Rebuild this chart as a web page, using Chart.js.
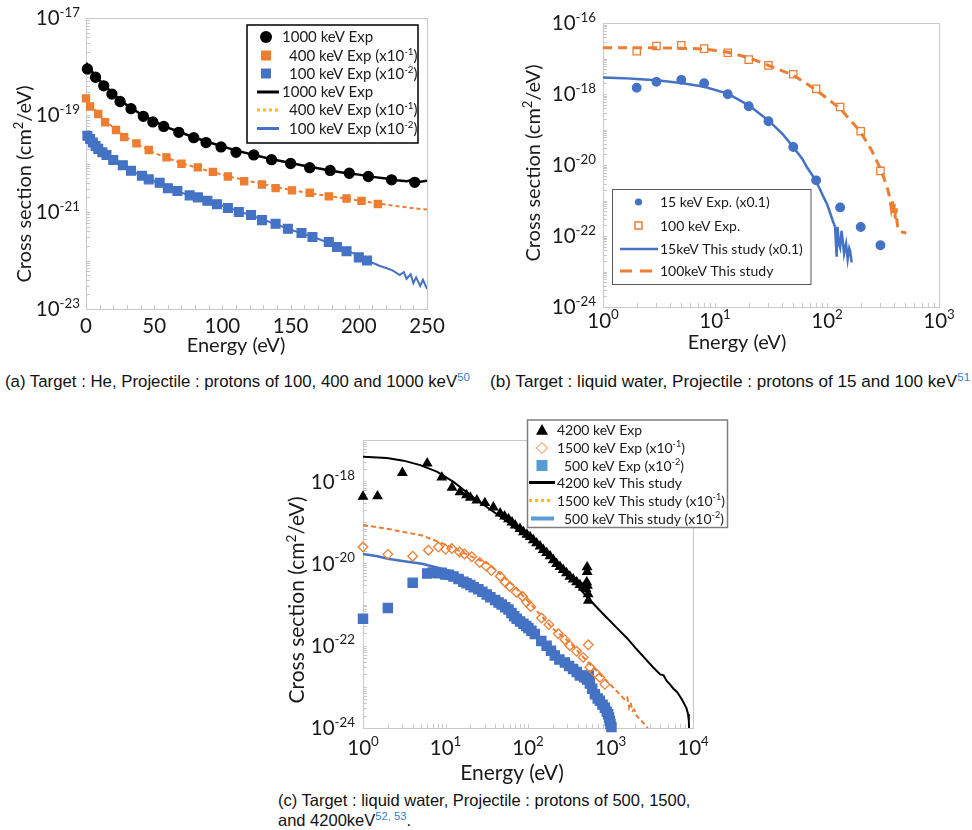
<!DOCTYPE html>
<html>
<head>
<meta charset="utf-8">
<script src="https://cdn.jsdelivr.net/npm/chart.js@4.4.1/dist/chart.umd.min.js"></script>
<style>
  body { margin: 0; background: #fff; width: 972px; height: 830px; position: relative; overflow: hidden; }
  canvas { position: absolute; }
  .cap { position: absolute; font-family: "Liberation Sans", Arial, sans-serif; color: #111; white-space: nowrap; }
  .cap sup { color: #2f80d0; font-size: 68%; vertical-align: 0.55em; line-height: 0; }
</style>
</head>
<body>
<canvas id="chartA" width="480" height="360" style="left:0;top:0"></canvas>
<canvas id="chartB" width="482" height="360" style="left:490px;top:0"></canvas>
<canvas id="chartC" width="460" height="390" style="left:270px;top:400px"></canvas>
<div class="cap" style="left:5px;top:372px;font-size:16.8px">(a) Target : He, Projectile : protons of 100, 400 and 1000 keV<sup>50</sup></div>
<div class="cap" style="left:490px;top:372px;font-size:17.1px">(b) Target : liquid water, Projectile : protons of 15 and 100 keV<sup>51</sup></div>
<div class="cap" style="left:278px;top:790px;font-size:16.5px;line-height:20px">(c) Target : liquid water, Projectile : protons of 500, 1500,<br>and 4200keV<sup>52, 53</sup>.</div>
<script>
// ---- (a) He target, energies in eV, cross sections in cm2/eV
const a1000ExpE = [1, 7, 13, 19, 25, 33, 42, 49, 57, 68, 79, 88, 99, 110, 123, 136, 150, 164, 179, 193, 207, 224, 241];
const a1000ExpY = [8.9e-19, 6.0e-19, 4.0e-19, 2.7e-19, 1.9e-19, 1.35e-19, 9.4e-20, 7.2e-20, 5.8e-20, 4.4e-20, 3.4e-20, 2.7e-20, 2.2e-20, 1.7e-20, 1.5e-20, 1.2e-20, 1.0e-20, 8.2e-21, 7.2e-21, 6.3e-21, 5.4e-21, 4.6e-21, 4.1e-21];
const a400ExpE = [0, 3, 9, 14, 22, 28, 37, 46, 59, 70, 82, 93, 104, 116, 129, 139, 151, 164, 178, 191, 202, 214];
const a400ExpY = [2.2e-19, 1.5e-19, 1.05e-19, 7.1e-20, 4.9e-20, 3.5e-20, 2.6e-20, 1.9e-20, 1.34e-20, 9.9e-21, 8.3e-21, 6.7e-21, 5.4e-21, 4.3e-21, 3.7e-21, 3.1e-21, 2.8e-21, 2.5e-21, 2.1e-21, 1.9e-21, 1.7e-21, 1.46e-21];
const a100ExpE = [1, 3, 5, 7, 9, 12, 15, 20, 27, 33, 41, 46, 54, 60, 67, 76, 82, 89, 96, 104, 112, 121, 129, 139, 148, 158, 166, 178, 184, 191, 200, 206];
const a100ExpY = [3.75e-20, 3.2e-20, 2.7e-20, 2.3e-20, 2.0e-20, 1.7e-20, 1.5e-20, 1.18e-20, 9.2e-21, 7.1e-21, 5.6e-21, 4.7e-21, 4.0e-21, 3.1e-21, 2.7e-21, 2.2e-21, 2.0e-21, 1.7e-21, 1.44e-21, 1.21e-21, 1.0e-21, 8.7e-22, 6.8e-22, 5.7e-22, 4.5e-22, 3.7e-22, 3.05e-22, 2.4e-22, 1.9e-22, 1.55e-22, 1.16e-22, 1.0e-22];
const a1000ThE = [0, 3, 6, 10, 15, 20, 25, 30, 40, 50, 60, 70, 80, 90, 100, 110, 120, 130, 140, 150, 160, 170, 180, 190, 200, 210, 220, 228, 235, 240, 245, 250];
const a1000ThY = [1.2e-18, 8.8e-19, 7.0e-19, 5.2e-19, 3.7e-19, 2.75e-19, 2.0e-19, 1.6e-19, 1.05e-19, 7.4e-20, 5.5e-20, 4.3e-20, 3.4e-20, 2.75e-20, 2.25e-20, 1.85e-20, 1.58e-20, 1.35e-20, 1.17e-20, 1.02e-20, 9.0e-21, 8.0e-21, 7.1e-21, 6.4e-21, 5.9e-21, 5.3e-21, 4.9e-21, 4.5e-21, 4.3e-21, 4.6e-21, 4.2e-21, 4.4e-21];
const a400ThE = [0, 5, 10, 20, 30, 40, 50, 60, 70, 80, 90, 100, 110, 120, 130, 140, 150, 160, 170, 180, 190, 200, 210, 220, 230, 240, 250];
const a400ThY = [2.2e-19, 1.45e-19, 1.0e-19, 5.5e-20, 3.4e-20, 2.3e-20, 1.65e-20, 1.28e-20, 1.02e-20, 8.4e-21, 7.0e-21, 5.9e-21, 5.0e-21, 4.3e-21, 3.75e-21, 3.25e-21, 2.85e-21, 2.55e-21, 2.3e-21, 2.1e-21, 1.9e-21, 1.72e-21, 1.56e-21, 1.42e-21, 1.3e-21, 1.2e-21, 1.12e-21];
const a100ThE = [0, 5, 10, 20, 30, 40, 50, 60, 70, 80, 90, 100, 110, 120, 130, 140, 150, 160, 170, 180, 190, 200, 205, 210, 215, 220, 225, 230, 233, 235, 238, 240, 242, 245, 247, 250];
const a100ThY = [4.2e-20, 2.7e-20, 1.95e-20, 1.2e-20, 7.9e-21, 5.7e-21, 4.3e-21, 3.2e-21, 2.5e-21, 2.05e-21, 1.65e-21, 1.35e-21, 1.08e-21, 8.7e-22, 6.9e-22, 5.5e-22, 4.3e-22, 3.5e-22, 2.8e-22, 2.2e-22, 1.7e-22, 1.25e-22, 1.05e-22, 9.0e-23, 7.8e-23, 7.0e-23, 6.2e-23, 5.0e-23, 5.8e-23, 4.2e-23, 5.2e-23, 3.4e-23, 4.5e-23, 3.0e-23, 4.0e-23, 2.6e-23];

// ---- (b) liquid water, 15 and 100 keV
const b15ExpE = [2, 3, 5, 8, 13, 20, 30, 50, 80, 131, 200, 300];
const b15ExpY = [1.5e-18, 2.2e-18, 2.5e-18, 2.0e-18, 9.8e-19, 4.5e-19, 1.7e-19, 3.2e-20, 3.7e-21, 6.4e-22, 1.8e-22, 5.5e-23];
const b100ExpE = [2, 3, 5, 8, 13, 20, 30, 50, 80, 131, 200, 300];
const b100ExpY = [1.6e-17, 2.25e-17, 2.35e-17, 1.9e-17, 1.45e-17, 9.3e-18, 6.4e-18, 3.6e-18, 1.4e-18, 4.3e-19, 8.9e-20, 6.8e-21];
const b15ThE = [1, 1.5, 2, 3, 5, 8, 13, 20, 30, 40, 50, 60, 66, 73, 80, 87, 93, 100, 107, 113, 118, 122, 124, 128, 131, 135, 140, 142, 148, 153, 158, 161, 166];
const b15ThY = [2.9e-18, 2.8e-18, 2.65e-18, 2.45e-18, 2.05e-18, 1.6e-18, 1.03e-18, 4.8e-19, 1.8e-19, 7.5e-20, 3.2e-20, 1.5e-20, 8.8e-21, 5.5e-21, 3.4e-21, 2.0e-21, 1.26e-21, 8e-22, 4.3e-22, 2.6e-22, 1.8e-22, 2.6e-23, 1.8e-22, 6e-23, 4.7e-23, 1.4e-22, 5e-23, 3.2e-23, 6e-23, 2.2e-23, 4.5e-23, 3.8e-23, 1.8e-23];
const b100ThE = [1, 1.5, 2, 3, 5, 8, 13, 20, 30, 50, 80, 131, 200, 250, 300, 330, 350, 365, 375, 385, 392, 400, 408, 415, 422, 430, 440, 470, 510];
const b100ThY = [2.0e-17, 2.0e-17, 2.0e-17, 2.0e-17, 1.95e-17, 1.85e-17, 1.5e-17, 1.05e-17, 6.4e-18, 3.4e-18, 1.3e-18, 3.9e-19, 8.5e-20, 2.6e-20, 7.9e-21, 3.5e-21, 1.95e-21, 1.1e-21, 6e-22, 1.0e-21, 4e-22, 8e-22, 3e-22, 6e-22, 2.5e-22, 1.6e-22, 1.4e-22, 1.3e-22, 1.2e-22];

// ---- (c) liquid water, 500, 1500 and 4200 keV
const c4200ExpE = [1, 1.5, 3, 6, 9, 12, 15, 18, 20, 24, 30, 38, 46, 52, 58, 64, 70, 80, 88, 97, 106, 116, 127, 140, 153, 168, 185, 203, 222, 244, 267, 293, 322, 353, 388, 425, 467, 505, 515, 520, 522, 525, 535, 540];
const c4200ExpY = [4.2e-19, 4.3e-19, 1.6e-18, 2.7e-18, 1.23e-18, 7.0e-19, 5.4e-19, 4.6e-19, 4.0e-19, 3.4e-19, 2.95e-19, 2.3e-19, 1.65e-19, 1.4e-19, 1.2e-19, 1.0e-19, 8.4e-20, 6.9e-20, 5.8e-20, 5.0e-20, 4.4e-20, 3.7e-20, 3.1e-20, 2.6e-20, 2.15e-20, 1.8e-20, 1.5e-20, 1.2e-20, 9.8e-21, 8.3e-21, 7.0e-21, 5.8e-21, 4.8e-21, 4.1e-21, 3.5e-21, 3.0e-21, 2.6e-21, 2.4e-21, 3.5e-21, 8.1e-21, 6.2e-21, 2.9e-21, 1.8e-21, 1.25e-21];
const c1500ExpE = [1, 2, 4, 6.2, 8.2, 10, 11.9, 14.8, 17, 20.8, 26, 31, 36, 46, 53, 60, 72, 86, 96, 108, 146, 179, 233, 280, 322, 388, 467, 537, 562, 646, 743, 854];
const c1500ExpY = [2.5e-20, 1.66e-20, 1.5e-20, 2.1e-20, 2.5e-20, 2.2e-20, 2.3e-20, 1.9e-20, 1.7e-20, 1.45e-20, 1.05e-20, 8.6e-21, 6.7e-21, 4.9e-21, 3.5e-21, 2.75e-21, 2.0e-21, 1.57e-21, 1.15e-21, 8.9e-22, 4.7e-22, 3.25e-22, 1.95e-22, 1.4e-22, 1.0e-22, 7.3e-23, 5.2e-23, 1.05e-22, 3.0e-23, 2.25e-23, 1.7e-23, 1.15e-23];
const c500ExpE = [1, 2, 4, 6, 7, 8.2, 9, 9.9, 11, 12.5, 14.4, 16.5, 18, 20, 22, 25, 28, 31.6, 35, 40, 44, 48, 53, 58, 63, 68, 73, 80, 88, 95, 101, 110, 121, 145, 168, 190, 211, 240, 280, 315, 352, 390, 425, 480, 520, 545, 562, 600, 646, 700, 743, 800, 854, 900, 935, 960, 980, 1000, 1027];
const c500ExpY = [4.5e-22, 8.3e-22, 3.4e-21, 5.7e-21, 6.0e-21, 5.8e-21, 5.9e-21, 5.4e-21, 5.3e-21, 4.8e-21, 4.2e-21, 3.6e-21, 3.3e-21, 3.0e-21, 2.65e-21, 2.35e-21, 2.05e-21, 1.75e-21, 1.5e-21, 1.3e-21, 1.12e-21, 1.0e-21, 8.6e-22, 7.6e-22, 6.2e-22, 5.2e-22, 4.5e-22, 3.9e-22, 3.4e-22, 3.0e-22, 2.7e-22, 2.3e-22, 1.93e-22, 1.3e-22, 1.0e-22, 7.5e-23, 5.8e-23, 4.6e-23, 3.9e-23, 3.2e-23, 2.7e-23, 2.3e-23, 1.9e-23, 1.7e-23, 1.5e-23, 1.9e-23, 1.2e-23, 9e-24, 6.6e-24, 5.2e-24, 4.6e-24, 3.7e-24, 3.1e-24, 2.5e-24, 2.15e-24, 1.8e-24, 1.5e-24, 1.25e-24, 1.05e-24];
const c4200ThE = [1, 1.95, 3.1, 4.94, 7.86, 12.5, 19.9, 31.6, 50.3, 80, 127, 202, 322, 512, 815, 1297, 1600, 2064, 2600, 3282, 4000, 4400, 4800, 5223, 5800, 6400, 6900, 7400, 8300, 8700, 8900, 8960];
const c4200ThY = [3.9e-18, 3.65e-18, 3.15e-18, 2.45e-18, 1.7e-18, 9.6e-19, 4.6e-19, 2.35e-19, 1.23e-19, 5.8e-20, 3.0e-20, 1.23e-20, 4.8e-21, 1.57e-21, 5.9e-22, 2.3e-22, 1.5e-22, 8.3e-23, 5.0e-23, 3.0e-23, 2.0e-23, 1.9e-23, 1.4e-23, 1.16e-23, 9e-24, 7.5e-24, 6.0e-24, 4.8e-24, 3.1e-24, 2.2e-24, 1.5e-24, 1.0e-24];
const c1500ThE = [1, 1.95, 3, 5.2, 7.5, 13, 20, 33, 50, 70, 127, 200, 322, 512, 815, 1297, 1500, 1600, 1680, 1750, 1850, 1950, 2064, 2300, 2484, 2700, 2850];
const c1500ThY = [8.5e-20, 7.0e-20, 5.9e-20, 4.8e-20, 3.6e-20, 2.3e-20, 1.5e-20, 9.8e-21, 4.9e-21, 2.65e-21, 7.1e-22, 2.6e-22, 1.2e-22, 4.3e-23, 1.7e-23, 6.6e-24, 4.8e-24, 5.5e-24, 3.2e-24, 4.2e-24, 2.6e-24, 2.8e-24, 2.0e-24, 1.6e-24, 1.35e-24, 1.1e-24, 1.0e-24];
const c500ThE = [1, 1.5, 2, 3, 5.2, 9, 14, 20, 30, 50, 80, 120, 200, 350, 500, 700, 900, 1050];
const c500ThY = [1.7e-20, 1.5e-20, 1.3e-20, 1.15e-20, 9.8e-21, 7.4e-21, 5.0e-21, 3.0e-21, 1.8e-21, 9e-22, 4.2e-22, 2.1e-22, 7.5e-23, 2.8e-23, 1.5e-23, 5e-24, 2.5e-24, 1e-24];

const ORANGE = "#ED7D31";
const BLUE = "#4472C4";
const LIGHTBLUE = "#5B9BD5";
const YELLOW = "#FFC000";
const FONT = 'Lato, "Open Sans", sans-serif';
const INK = "#1a1a1a";
const AXIS = "#c8c8c8";

const pts = (E, Y) => E.map((e, i) => ({ x: e, y: Y[i] }));

// text with superscripts: parts = [[text, isSup], ...]
function richWidth(ctx, parts, fs) {
  let w = 0;
  for (const [t, sup] of parts) {
    ctx.font = (sup ? fs * 0.65 : fs) + "px " + FONT;
    w += ctx.measureText(t).width;
  }
  return w;
}
function drawRich(ctx, parts, x, y, fs, align) {
  const w = richWidth(ctx, parts, fs);
  if (align === "right") x -= w;
  else if (align === "center") x -= w / 2;
  ctx.fillStyle = INK;
  ctx.textAlign = "left";
  ctx.textBaseline = "alphabetic";
  for (const [t, sup] of parts) {
    ctx.font = (sup ? fs * 0.65 : fs) + "px " + FONT;
    ctx.fillText(t, x, sup ? y - fs * 0.42 : y);
    x += ctx.measureText(t).width;
  }
}
const pow10 = n => [["10", 0], [String(n), 1]];
const txt = s => [[s, 0]];

function logMinors(lo, hi) {
  const out = [];
  for (let d = lo; d < hi; d++) for (let m = 1; m <= 9; m++) out.push(m * Math.pow(10, d));
  out.push(Math.pow(10, hi));
  return out;
}

function drawSymbol(ctx, s, x, y) {
  ctx.save();
  ctx.fillStyle = s.color;
  ctx.strokeStyle = s.color;
  ctx.lineWidth = s.lw || 1;
  if (s.kind === "circle") { ctx.beginPath(); ctx.arc(x, y, s.r, 0, 2 * Math.PI); ctx.fill(); }
  if (s.kind === "square") ctx.fillRect(x - s.r, y - s.r, 2 * s.r, 2 * s.r);
  if (s.kind === "openSquare") ctx.strokeRect(x - s.r, y - s.r, 2 * s.r, 2 * s.r);
  if (s.kind === "triangle") { ctx.beginPath(); ctx.moveTo(x, y - s.r); ctx.lineTo(x + s.r, y + s.r * 0.8); ctx.lineTo(x - s.r, y + s.r * 0.8); ctx.closePath(); ctx.fill(); }
  if (s.kind === "diamond") { ctx.beginPath(); ctx.moveTo(x, y - s.r); ctx.lineTo(x + s.r, y); ctx.lineTo(x, y + s.r); ctx.lineTo(x - s.r, y); ctx.closePath(); ctx.stroke(); }
  if (s.kind === "line") {
    ctx.setLineDash(s.dash || []);
    ctx.beginPath(); ctx.moveTo(s.x1, y); ctx.lineTo(s.x2, y); ctx.stroke();
  }
  ctx.restore();
}

const decoPlugin = {
  id: "deco",
  beforeDatasetsDraw(chart) {
    const d = chart.options.plugins.deco, ctx = chart.ctx, a = chart.chartArea;
    const xs = chart.scales.x, ys = chart.scales.y;
    ctx.save();
    ctx.strokeStyle = AXIS;
    ctx.lineWidth = 1;
    ctx.strokeRect(Math.round(a.left) + 0.5, Math.round(a.top) + 0.5, Math.round(a.right - a.left), Math.round(a.bottom - a.top));
    ctx.beginPath();
    for (const v of d.xMinor) {
      const px = Math.round(xs.getPixelForValue(v)) + 0.5;
      ctx.moveTo(px, a.bottom); ctx.lineTo(px, a.bottom - 4);
    }
    for (const v of d.yMinor) {
      const py = Math.round(ys.getPixelForValue(v)) + 0.5;
      ctx.moveTo(a.left, py); ctx.lineTo(a.left + 4, py);
    }
    ctx.stroke();
    ctx.restore();
  },
  afterDraw(chart) {
    const d = chart.options.plugins.deco, ctx = chart.ctx, a = chart.chartArea;
    const xs = chart.scales.x, ys = chart.scales.y;
    ctx.save();
    for (const t of d.yTicks) {
      const py = ys.getPixelForValue(t.v);
      drawRich(ctx, t.label, a.left - d.yGap, py + d.tickFs * 0.36, d.tickFs, "right");
    }
    for (const t of d.xTicks) {
      drawRich(ctx, t.label, xs.getPixelForValue(t.v), a.bottom + d.xBase, d.tickFs, "center");
    }
    drawRich(ctx, d.xTitle, d.xTitlePos[0], d.xTitlePos[1], d.titleFs, "center");
    ctx.save();
    ctx.translate(d.yTitlePos[0], d.yTitlePos[1]);
    ctx.rotate(-Math.PI / 2);
    drawRich(ctx, d.yTitle, 0, d.titleFs * 0.35, d.titleFs, "center");
    ctx.restore();
    // legend box
    const L = d.legend, b = L.box;
    ctx.fillStyle = "#fff";
    ctx.fillRect(b[0], b[1], b[2] - b[0], b[3] - b[1]);
    ctx.strokeStyle = L.border;
    ctx.lineWidth = L.borderWidth;
    ctx.strokeRect(b[0], b[1], b[2] - b[0], b[3] - b[1]);
    for (const row of L.rows) {
      drawSymbol(ctx, row.sym, L.symX, row.y);
      drawRich(ctx, row.text, row.tx, row.y + L.fs * 0.36, L.fs, "left");
    }
    ctx.restore();
  }
};

function marker(data, style, r, color, fill, order) {
  return { data, showLine: false, pointStyle: style, pointRadius: r, pointBorderWidth: 1.3,
    pointBackgroundColor: fill, pointBorderColor: color, order: order || 0, clip: false };
}
function curve(data, color, width, dash) {
  return { data, showLine: true, pointRadius: 0, borderColor: color, borderWidth: width,
    borderDash: dash || [], tension: 0, order: 5 };
}

function makeChart(id, padding, xScale, yScale, datasets, deco) {
  return new Chart(document.getElementById(id), {
    type: "scatter",
    data: { datasets },
    options: {
      responsive: false,
      animation: false,
      layout: { padding },
      scales: { x: Object.assign({ display: false }, xScale), y: Object.assign({ display: false }, yScale) },
      plugins: { legend: { display: false }, tooltip: { enabled: false }, deco }
    },
    plugins: [decoPlugin]
  });
}

const ytitle = [["Cross section (cm", 0], ["2", 1], ["/eV)", 0]];
const exNeg1 = s => [[s + " (x10", 0], ["-1", 1], [")", 0]];
const exNeg2 = s => [[s + " (x10", 0], ["-2", 1], [")", 0]];

// ---- chart (a)
makeChart("chartA", { left: 86, top: 18, right: 53, bottom: 51 },
  { type: "linear", min: 0, max: 250 },
  { type: "logarithmic", min: 1e-23, max: 1e-17 },
  [
    marker(pts(a1000ExpE, a1000ExpY), "circle", 5, "#000", "#000"),
    marker(pts(a400ExpE, a400ExpY), "rect", 5, ORANGE, ORANGE),
    marker(pts(a100ExpE, a100ExpY), "rect", 6.2, BLUE, BLUE),
    curve(pts(a1000ThE, a1000ThY), "#000", 2.5),
    curve(pts(a400ThE, a400ThY), ORANGE, 2, [4, 3]),
    curve(pts(a100ThE, a100ThY), BLUE, 2)
  ],
  {
    xMinor: [0, 10, 20, 30, 40, 50, 60, 70, 80, 90, 100, 110, 120, 130, 140, 150, 160, 170, 180, 190, 200, 210, 220, 230, 240, 250],
    yMinor: logMinors(-23, -17),
    yTicks: [-17, -19, -21, -23].map(n => ({ v: Math.pow(10, n), label: pow10(n) })),
    xTicks: [0, 50, 100, 150, 200, 250].map(v => ({ v, label: txt(String(v)) })),
    tickFs: 20.5, yGap: 6, xBase: 24, titleFs: 20,
    xTitle: txt("Energy (eV)"), xTitlePos: [236, 352],
    yTitle: ytitle, yTitlePos: [24, 184],
    legend: {
      box: [247, 25, 418, 143], border: "#000", borderWidth: 1.5, fs: 15, symX: 266,
      rows: [
        { y: 37, tx: 282, text: txt("1000 keV Exp"), sym: { kind: "circle", r: 6, color: "#000" } },
        { y: 55.5, tx: 289, text: exNeg1("400 keV Exp"), sym: { kind: "square", r: 5, color: ORANGE } },
        { y: 73.5, tx: 289, text: exNeg2("100 keV Exp"), sym: { kind: "square", r: 5, color: BLUE } },
        { y: 92, tx: 282, text: txt("1000 keV Exp"), sym: { kind: "line", x1: 257, x2: 279, lw: 3, color: "#000" } },
        { y: 110, tx: 289, text: exNeg1("400 keV Exp"), sym: { kind: "line", x1: 257, x2: 279, lw: 3, dash: [3, 3], color: YELLOW } },
        { y: 128.5, tx: 289, text: exNeg2("100 keV Exp"), sym: { kind: "line", x1: 257, x2: 279, lw: 3, color: BLUE } }
      ]
    }
  });

// ---- chart (b)
makeChart("chartB", { left: 113, top: 23, right: 33, bottom: 53 },
  { type: "logarithmic", min: 1, max: 1000 },
  { type: "logarithmic", min: 1e-24, max: 1e-16 },
  [
    marker(pts(b15ExpE, b15ExpY), "circle", 4.3, BLUE, BLUE),
    marker(pts(b100ExpE, b100ExpY), "rect", 5.2, ORANGE, "rgba(255,255,255,0)"),
    curve(pts(b15ThE, b15ThY), BLUE, 2.5),
    curve(pts(b100ThE, b100ThY), ORANGE, 3, [9, 6])
  ],
  {
    xMinor: logMinors(0, 3),
    yMinor: logMinors(-24, -16),
    yTicks: [-16, -18, -20, -22, -24].map(n => ({ v: Math.pow(10, n), label: pow10(n) })),
    xTicks: [0, 1, 2, 3].map(n => ({ v: Math.pow(10, n), label: pow10(n) })),
    tickFs: 20.5, yGap: 7, xBase: 21, titleFs: 20,
    xTitle: txt("Energy (eV)"), xTitlePos: [247, 349],
    yTitle: ytitle, yTitlePos: [43, 163],
    legend: {
      box: [122.5, 189.5, 321, 284.5], border: "#595959", borderWidth: 1, fs: 14, symX: 148.5,
      rows: [
        { y: 202, tx: 170, text: txt("15 keV Exp. (x0.1)"), sym: { kind: "circle", r: 3.6, color: BLUE } },
        { y: 225.5, tx: 170, text: txt("100 keV Exp."), sym: { kind: "openSquare", r: 3.5, lw: 1.5, color: ORANGE } },
        { y: 249, tx: 170, text: txt("15keV This study (x0.1)"), sym: { kind: "line", x1: 130, x2: 168, lw: 2.5, color: BLUE } },
        { y: 271, tx: 170, text: txt("100keV This study"), sym: { kind: "line", x1: 130, x2: 163, lw: 3, dash: [12, 8], color: ORANGE } }
      ]
    }
  });

// ---- chart (c)
makeChart("chartC", { left: 93, top: 40, right: 37, bottom: 62 },
  { type: "logarithmic", min: 1, max: 10000 },
  { type: "logarithmic", min: 1e-24, max: 1e-17 },
  [
    marker(pts(c4200ExpE, c4200ExpY), "triangle", 5, "#000", "#000"),
    marker(pts(c1500ExpE, c1500ExpY), "rectRot", 4.8, ORANGE, "rgba(255,255,255,0)"),
    marker(pts(c500ExpE, c500ExpY), "rect", 6.5, BLUE, BLUE, 1),
    curve(pts(c4200ThE, c4200ThY), "#000", 2),
    curve(pts(c1500ThE, c1500ThY), ORANGE, 2, [5, 3]),
    curve(pts(c500ThE, c500ThY), BLUE, 2.5)
  ],
  {
    xMinor: logMinors(0, 4),
    yMinor: logMinors(-24, -17),
    yTicks: [-18, -20, -22, -24].map(n => ({ v: Math.pow(10, n), label: pow10(n) })),
    xTicks: [0, 1, 2, 3, 4].map(n => ({ v: Math.pow(10, n), label: pow10(n) })),
    tickFs: 20.5, yGap: 8, xBase: 27, titleFs: 21,
    xTitle: txt("Energy (eV)"), xTitlePos: [242, 380],
    yTitle: ytitle, yTitlePos: [27, 200],
    legend: {
      box: [257.5, 20, 457.5, 127.5], border: "#7f7f7f", borderWidth: 1.5, fs: 14, symX: 272,
      rows: [
        { y: 30, tx: 287, text: txt("4200 keV Exp"), sym: { kind: "triangle", r: 6, color: "#000" } },
        { y: 48, tx: 287, text: exNeg1("1500 keV Exp"), sym: { kind: "diamond", r: 5.5, lw: 1, color: ORANGE } },
        { y: 65.5, tx: 294, text: exNeg2("500 keV Exp"), sym: { kind: "square", r: 5.5, color: LIGHTBLUE } },
        { y: 82.5, tx: 287, text: txt("4200 keV This study"), sym: { kind: "line", x1: 259, x2: 285, lw: 3, color: "#000" } },
        { y: 100.5, tx: 287, text: exNeg1("1500 keV This study"), sym: { kind: "line", x1: 259, x2: 282, lw: 3, dash: [3, 3], color: YELLOW } },
        { y: 118.5, tx: 294, text: exNeg2("500 keV This study"), sym: { kind: "line", x1: 261, x2: 284, lw: 4, color: LIGHTBLUE } }
      ]
    }
  });
</script>
</body>
</html>
